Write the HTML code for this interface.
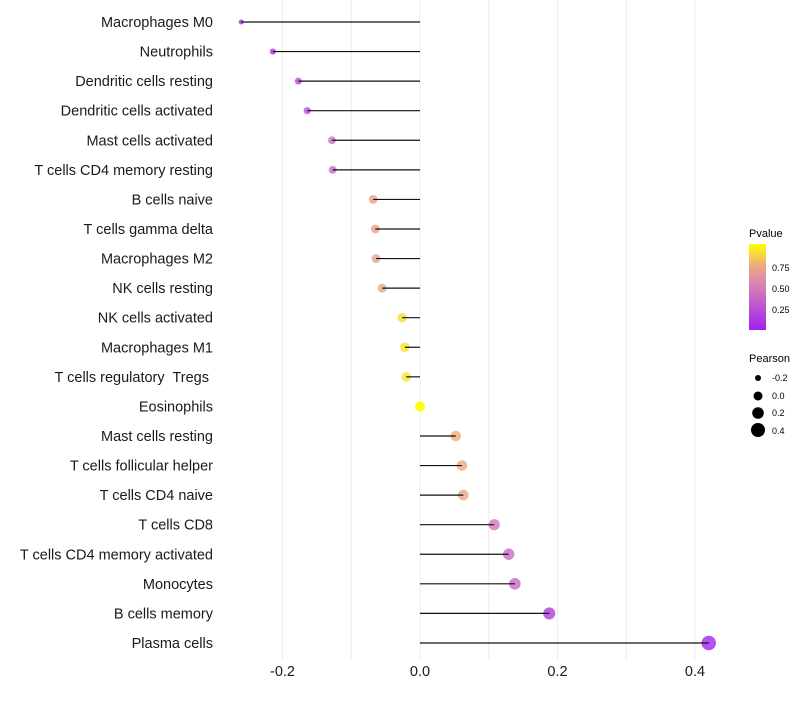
<!DOCTYPE html>
<html><head><meta charset="utf-8"><style>
body{margin:0;background:#fff;font-family:"Liberation Sans",sans-serif}
svg text{font-family:"Liberation Sans",sans-serif;white-space:pre}
</style></head><body>
<svg id="chart" width="800" height="700" xmlns="http://www.w3.org/2000/svg">
<g id="grid"></g>
<g id="ylabels"></g>
<g id="marks"></g>
<g id="xticks"></g>
<g>
<defs><linearGradient id="pg" x1="0" y1="1" x2="0" y2="0">
<stop offset="0" stop-color="#a020f0"/><stop offset="0.5" stop-color="#d47fb8"/><stop offset="0.75" stop-color="#eeaa80"/><stop offset="1" stop-color="#ffff00"/></linearGradient></defs>
<text x="749" y="237" font-size="11">Pvalue</text>
<rect x="749" y="244" width="17" height="86" fill="url(#pg)"/>
<text x="772" y="271" font-size="9">0.75</text>
<text x="772" y="292" font-size="9">0.50</text>
<text x="772" y="313" font-size="9">0.25</text>
</g>
<g>
<text x="749" y="362" font-size="11">Pearson</text>
<circle cx="758" cy="378" r="3"/><text x="772" y="381" font-size="9">-0.2</text>
<circle cx="758" cy="396" r="4.5"/><text x="772" y="399" font-size="9">0.0</text>
<circle cx="758" cy="413" r="5.8"/><text x="772" y="416" font-size="9">0.2</text>
<circle cx="758" cy="430" r="7"/><text x="772" y="434" font-size="9">0.4</text>
</g>
</svg>
<script>
const cells=["Macrophages M0","Neutrophils","Dendritic cells resting","Dendritic cells activated","Mast cells activated","T cells CD4 memory resting","B cells naive","T cells gamma delta","Macrophages M2","NK cells resting","NK cells activated","Macrophages M1","T cells regulatory  Tregs ","Eosinophils","Mast cells resting","T cells follicular helper","T cells CD4 naive","T cells CD8","T cells CD4 memory activated","Monocytes","B cells memory","Plasma cells"];
const pearson=[-0.260,-0.214,-0.177,-0.164,-0.128,-0.127,-0.068,-0.065,-0.064,-0.055,-0.026,-0.022,-0.020,0.0,0.052,0.061,0.063,0.108,0.129,0.138,0.188,0.420];
const pvalue=[0.05,0.1,0.2,0.25,0.4,0.4,0.7,0.7,0.7,0.74,0.9,0.92,0.92,1.0,0.76,0.74,0.72,0.45,0.4,0.38,0.15,0.03];
const xTicks=[-0.2,0,0.2,0.4];
const xMinor=[-0.1,0.1,0.3];
const NS="http://www.w3.org/2000/svg";
const X=v=>420+v*687.5;
const Y=i=>22+i*29.57;
const R=v=>Math.sqrt(Math.max(2.5,24+68*v));
function lerp(a,b,t){return a.map((x,k)=>Math.round(x+(b[k]-x)*t));}
const stops=[[0,[160,32,240]],[0.5,[212,127,184]],[0.75,[238,170,128]],[1,[255,255,0]]];
function col(p){for(let k=1;k<stops.length;k++){if(p<=stops[k][0]){const t=(p-stops[k-1][0])/(stops[k][0]-stops[k-1][0]);return 'rgb('+lerp(stops[k-1][1],stops[k][1],t).join(',')+')';}}return 'rgb(255,255,0)';}
function mk(tag,attrs,parent){const e=document.createElementNS(NS,tag);for(const k in attrs)e.setAttribute(k,attrs[k]);parent.appendChild(e);return e;}
const grid=document.getElementById('grid'),marks=document.getElementById('marks'),yl=document.getElementById('ylabels'),xt=document.getElementById('xticks');
xMinor.concat(xTicks).forEach(v=>{const l=mk('line',{x1:X(v),x2:X(v),y1:0,y2:660,stroke:'#ececec','stroke-width':1},grid);

});
xTicks.forEach(v=>{const t=mk('text',{x:X(v),y:676,'font-size':14.5,'text-anchor':'middle',fill:'#1a1a1a'},xt);t.textContent=v===0?'0.0':v.toFixed(1);

});
cells.forEach((c,i)=>{const t=mk('text',{x:213,y:Y(i)+5,'font-size':14.5,'text-anchor':'end',fill:'#1a1a1a'},yl);t.textContent=c;


const dot=mk('circle',{cx:X(pearson[i]),cy:Y(i),r:R(pearson[i]),fill:col(pvalue[i]),'fill-opacity':pvalue[i]>=0.99?1:0.8},marks);


const ln=mk('line',{x1:X(pearson[i]),x2:X(0),y1:Y(i),y2:Y(i),stroke:'#111','stroke-width':1.2},marks);

});
</script>
</body></html>
